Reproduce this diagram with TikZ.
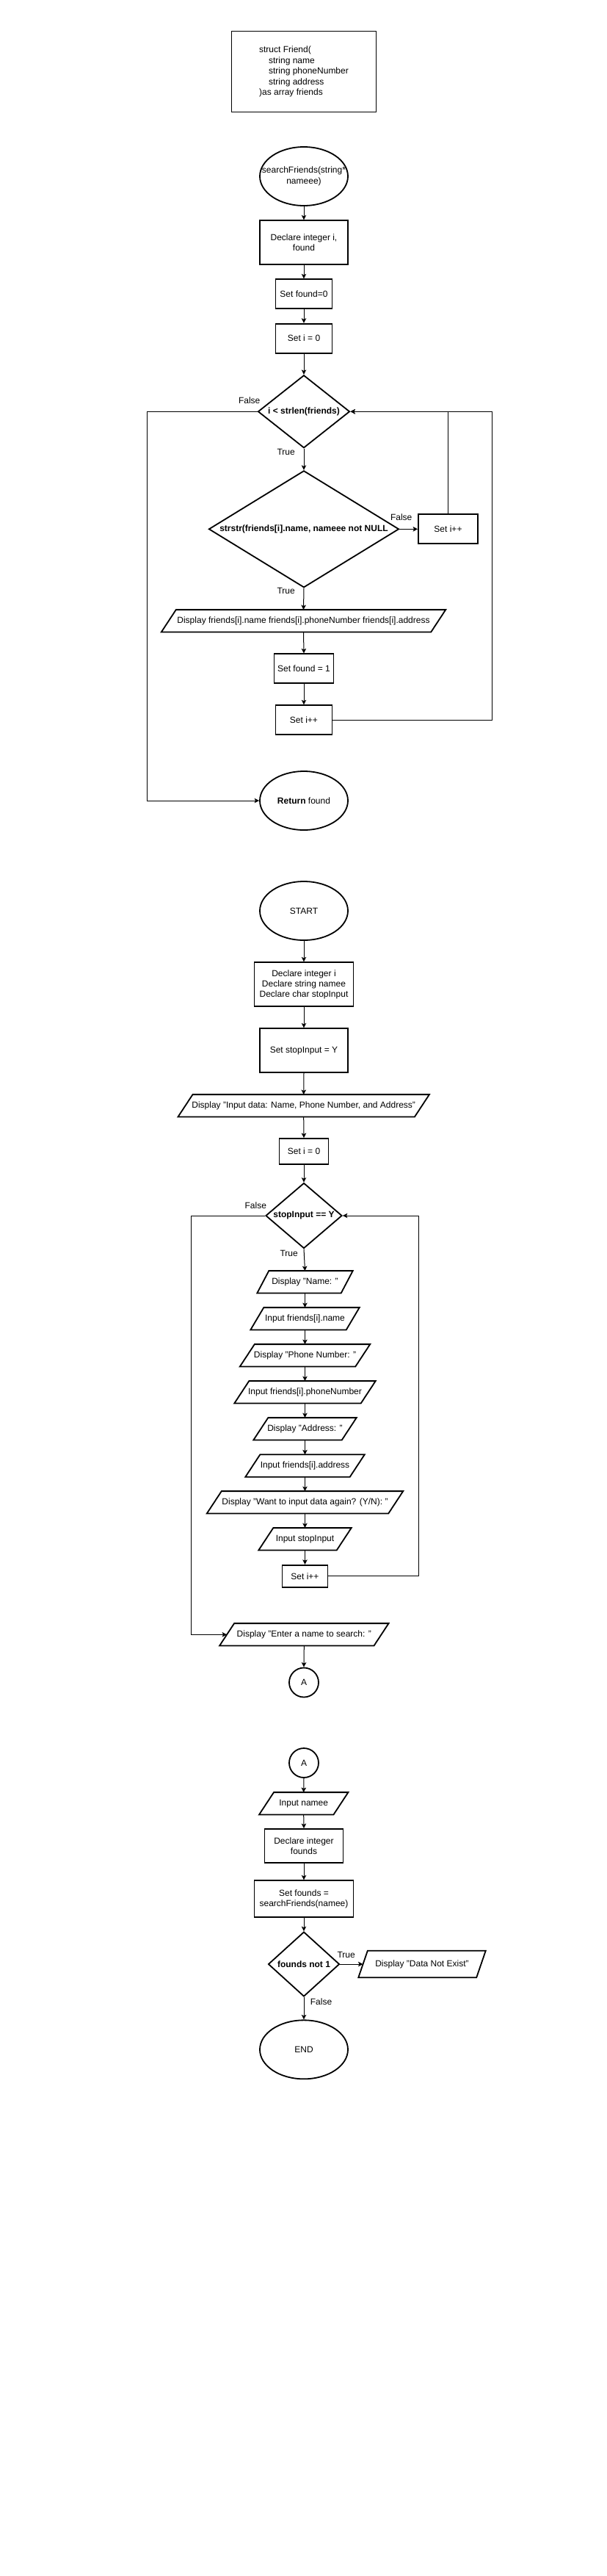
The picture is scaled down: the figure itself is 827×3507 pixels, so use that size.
\documentclass[tikz,border=0pt]{standalone}
\usepackage{fontspec}
\setmainfont{Liberation Sans}
\usetikzlibrary{shapes.geometric,arrows.meta,calc}
\tikzset{
  base/.style={inner sep=0pt, font=\fontsize{12}{14.4}\selectfont, align=center},
  shp/.style={draw=black, line width=1.8pt},
  box/.style={base, shp, rectangle},
  oval/.style={base, shp, ellipse, minimum width=120pt, minimum height=80pt},
  decis/.style={shp, diamond, inner sep=0pt},
  iotext/.style={base, rectangle},
  txt/.style={base},
  btxt/.style={base, font=\fontsize{12}{14.4}\selectfont\bfseries},
  lbl/.style={base},
  conn/.style={base, shp, circle, minimum size=40pt},
  arr/.style={line width=1pt, -{Stealth[length=6.5pt,width=6.5pt,inset=1.5pt]}},
}
% name, x, y, width, height, slant, text
\newcommand{\iobox}[7]{%
  \node[iotext, minimum width=#4pt, minimum height=#5pt] (#1) at (#2,#3) {#7};
  \draw[shp, line join=miter] ([xshift=#6pt]#1.north west) -- (#1.north east) -- ([xshift=-#6pt]#1.south east) -- (#1.south west) -- cycle;
}
\begin{document}
\begin{tikzpicture}[x=1pt,y=-1pt]
\useasboundingbox (0,0) rectangle (827,3507);

% ---------- struct ----------
\node[box, align=left, minimum width=197pt, minimum height=110pt] (struct) at (414,97.5)
  {struct Friend(\\\hspace*{13pt}string name\\\hspace*{13pt}string phoneNumber\\\hspace*{13pt}string address\\)as array friends};

% ---------- searchFriends ----------
\node[oval] (sf) at (414,240) {};
\node[txt] (sft) at (sf) {searchFriends(string*\\nameee)};
\node[box, minimum width=120pt, minimum height=60pt] (decl1) at (414,330.3) {Declare integer i,\\found};
\node[box, minimum width=77pt, minimum height=40pt] (sf0) at (414,400.3) {Set found=0};
\node[box, minimum width=77pt, minimum height=40pt] (si0) at (414,460.7) {Set i = 0};
\node[decis, minimum width=125pt, minimum height=99pt] (d1) at (414,560.3) {};
\node[btxt] (d1t) at (d1) {i < strlen(friends)};
\node[decis, minimum width=259pt, minimum height=159pt] (d2) at (414,720.3) {};
\node[btxt] (d2t) at (d2) {strstr(friends[i].name, nameee not NULL};
\node[box, minimum width=81pt, minimum height=40pt] (sir) at (610.5,720.3) {Set i++};
\iobox{disp1}{413.5}{845.3}{387}{30}{20}{Display friends[i].name friends[i].phoneNumber friends[i].address}
\node[box, minimum width=81pt, minimum height=40pt] (sf1) at (414,910.3) {Set found = 1};
\node[box, minimum width=77pt, minimum height=40pt] (si2) at (414,980.3) {Set i++};
\node[oval] (ret) at (414,1090) {};
\node[txt] (rett) at (ret) {\textbf{Return} found};

\coordinate (L1) at (200.7,1090);
\coordinate (R1) at (670,560.3);

\draw[arr] (sf.south) -- (decl1.north);
\draw[arr] (decl1.south) -- (sf0.north);
\draw[arr] (sf0.south) -- (si0.north);
\draw[arr] (si0.south) -- (d1.north);
\draw[arr] (d1.south) -- (d2.north);
\node[lbl] (t1) at (389.7,615) {True};
\draw[arr] (d2.east) -- (sir.west);
\node[lbl] (f2) at (546.7,704) {False};
\draw[arr] (sir.north) |- (d1.east);
\draw[arr] (si2.east) -| (R1) -- (d1.east);
\draw[arr] (d1.west) -| (L1) -- (ret.west);
\node[lbl] (f1) at (339.7,545) {False};
\draw[arr] (d2.south) -- (disp1.north);
\node[lbl] (t2) at (389.7,804.7) {True};
\draw[arr] (disp1.south) -- (sf1.north);
\draw[arr] (sf1.south) -- (si2.north);

% ---------- main ----------
\node[oval] (start) at (414,1240) {START};
\node[box, minimum width=135pt, minimum height=60pt] (decl2) at (414,1340.3) {Declare integer i\\Declare string namee\\Declare char stopInput};
\node[box, minimum width=120pt, minimum height=60pt] (sst) at (414,1430.3) {Set stopInput = Y};
\iobox{dinp}{413.7}{1505.3}{342}{30}{20}{Display "Input data: Name, Phone Number, and Address"}
\node[box, minimum width=67pt, minimum height=35pt] (si0b) at (414,1567.5) {Set i = 0};
\node[decis, minimum width=104pt, minimum height=89pt] (d3) at (414,1655) {};
\node[btxt] (d3t) at (d3) {stopInput == Y};
\iobox{dname}{415.5}{1745.3}{130}{30}{16}{Display "Name: "}
\iobox{iname}{415.5}{1795.3}{148}{30}{18}{Input friends[i].name}
\iobox{dphone}{415.5}{1845.3}{177}{30}{20}{Display "Phone Number: "}
\iobox{iphone}{415.5}{1895.3}{192}{30}{20}{Input friends[i].phoneNumber}
\iobox{daddr}{415.5}{1945.3}{140}{30}{20}{Display "Address: "}
\iobox{iaddr}{415.5}{1995.5}{162}{30}{20}{Input friends[i].address}
\iobox{dwant}{415.5}{2045.3}{267}{30}{20}{Display "Want to input data again? (Y/N): "}
\iobox{istop}{415.5}{2095.3}{126}{30}{20}{Input stopInput}
\node[box, minimum width=62pt, minimum height=30pt] (si3) at (415.5,2145.7) {Set i++};
\iobox{enter}{414.3}{2225.3}{230}{30}{20}{Display "Enter a name to search: "}
\node[conn] (ca) at (414,2290.5) {A};

\coordinate (R2) at (570,1655);
\coordinate (L2) at (260.7,2225.3);

\draw[arr] (start.south) -- (decl2.north);
\draw[arr] (decl2.south) -- (sst.north);
\draw[arr] (sst.south) -- (dinp.north);
\draw[arr] (dinp.south) -- (si0b.north);
\draw[arr] (si0b.south) -- (d3.north);
\draw[arr] (d3.south) -- (dname.north);
\node[lbl] (t3) at (393.7,1706) {True};
\draw[arr] (dname.south) -- (iname.north);
\draw[arr] (iname.south) -- (dphone.north);
\draw[arr] (dphone.south) -- (iphone.north);
\draw[arr] (iphone.south) -- (daddr.north);
\draw[arr] (daddr.south) -- (iaddr.north);
\draw[arr] (iaddr.south) -- (dwant.north);
\draw[arr] (dwant.south) -- (istop.north);
\draw[arr] (istop.south) -- (si3.north);
\draw[arr] (si3.east) -| (R2) -- (d3.east);
\draw[arr] (d3.west) -| (L2) -- ([xshift=10pt]enter.west);
\node[lbl] (f3) at (348.3,1641) {False};
\draw[arr] (enter.south) -- (ca.north);

% ---------- continuation ----------
\node[conn] (cb) at (414,2400) {A};
\iobox{inamee}{413.7}{2455.3}{121}{30}{20}{Input namee}
\node[box, minimum width=107pt, minimum height=46pt] (decl3) at (414,2513) {Declare integer\\founds};
\node[box, minimum width=135pt, minimum height=50pt] (sfs) at (414,2585.3) {Set founds =\\searchFriends(namee)};
\node[decis, minimum width=97pt, minimum height=88pt] (d4) at (414,2674) {};
\node[btxt] (d4t) at (d4) {founds not 1};
\iobox{dne}{575}{2674}{173}{36}{12.5}{Display "Data Not Exist"}
\node[oval] (end) at (414,2790.3) {END};

\draw[arr] (cb.south) -- (inamee.north);
\draw[arr] (inamee.south) -- (decl3.north);
\draw[arr] (decl3.south) -- (sfs.north);
\draw[arr] (sfs.south) -- (d4.north);
\draw[arr] (d4.east) -- ([xshift=6.25pt]dne.west);
\node[lbl] (t4) at (471.7,2661.7) {True};
\draw[arr] (d4.south) -- (end.north);
\node[lbl] (f4) at (437.5,2725) {False};
\end{tikzpicture}
\end{document}
